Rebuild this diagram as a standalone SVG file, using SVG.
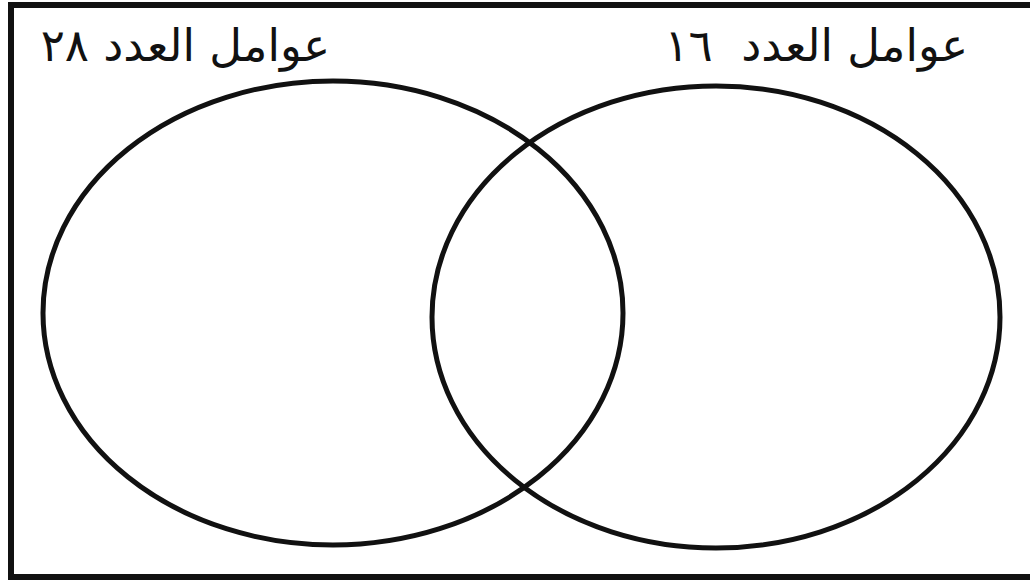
<svg xmlns="http://www.w3.org/2000/svg" width="1030" height="587" viewBox="0 0 1030 587">
<style>
.frame{stroke:#111;stroke-width:6;fill:none}
.set{stroke:#111;stroke-width:5;fill:none}
.lbl{font-family:"DejaVu Sans",sans-serif;font-size:45px;fill:#111;white-space:pre}
</style>
<rect x="0" y="0" width="1030" height="587" fill="#fff"/>
<g id="frame">
<path class="frame" d="M1030 5 H11 V577 H1030"/>
</g>
<g id="set-28">
<ellipse class="set" cx="333" cy="313" rx="290" ry="232"/>
<text class="lbl" x="330" y="61" text-anchor="start" direction="rtl">عوامل العدد ٢٨</text>
</g>
<g id="set-16">
<ellipse class="set" cx="716" cy="317" rx="284" ry="231"/>
<text class="lbl" x="968" y="61" text-anchor="start" direction="rtl" xml:space="preserve">عوامل العدد  ١٦</text>
</g>
<g id="connectors"></g>
</svg>
